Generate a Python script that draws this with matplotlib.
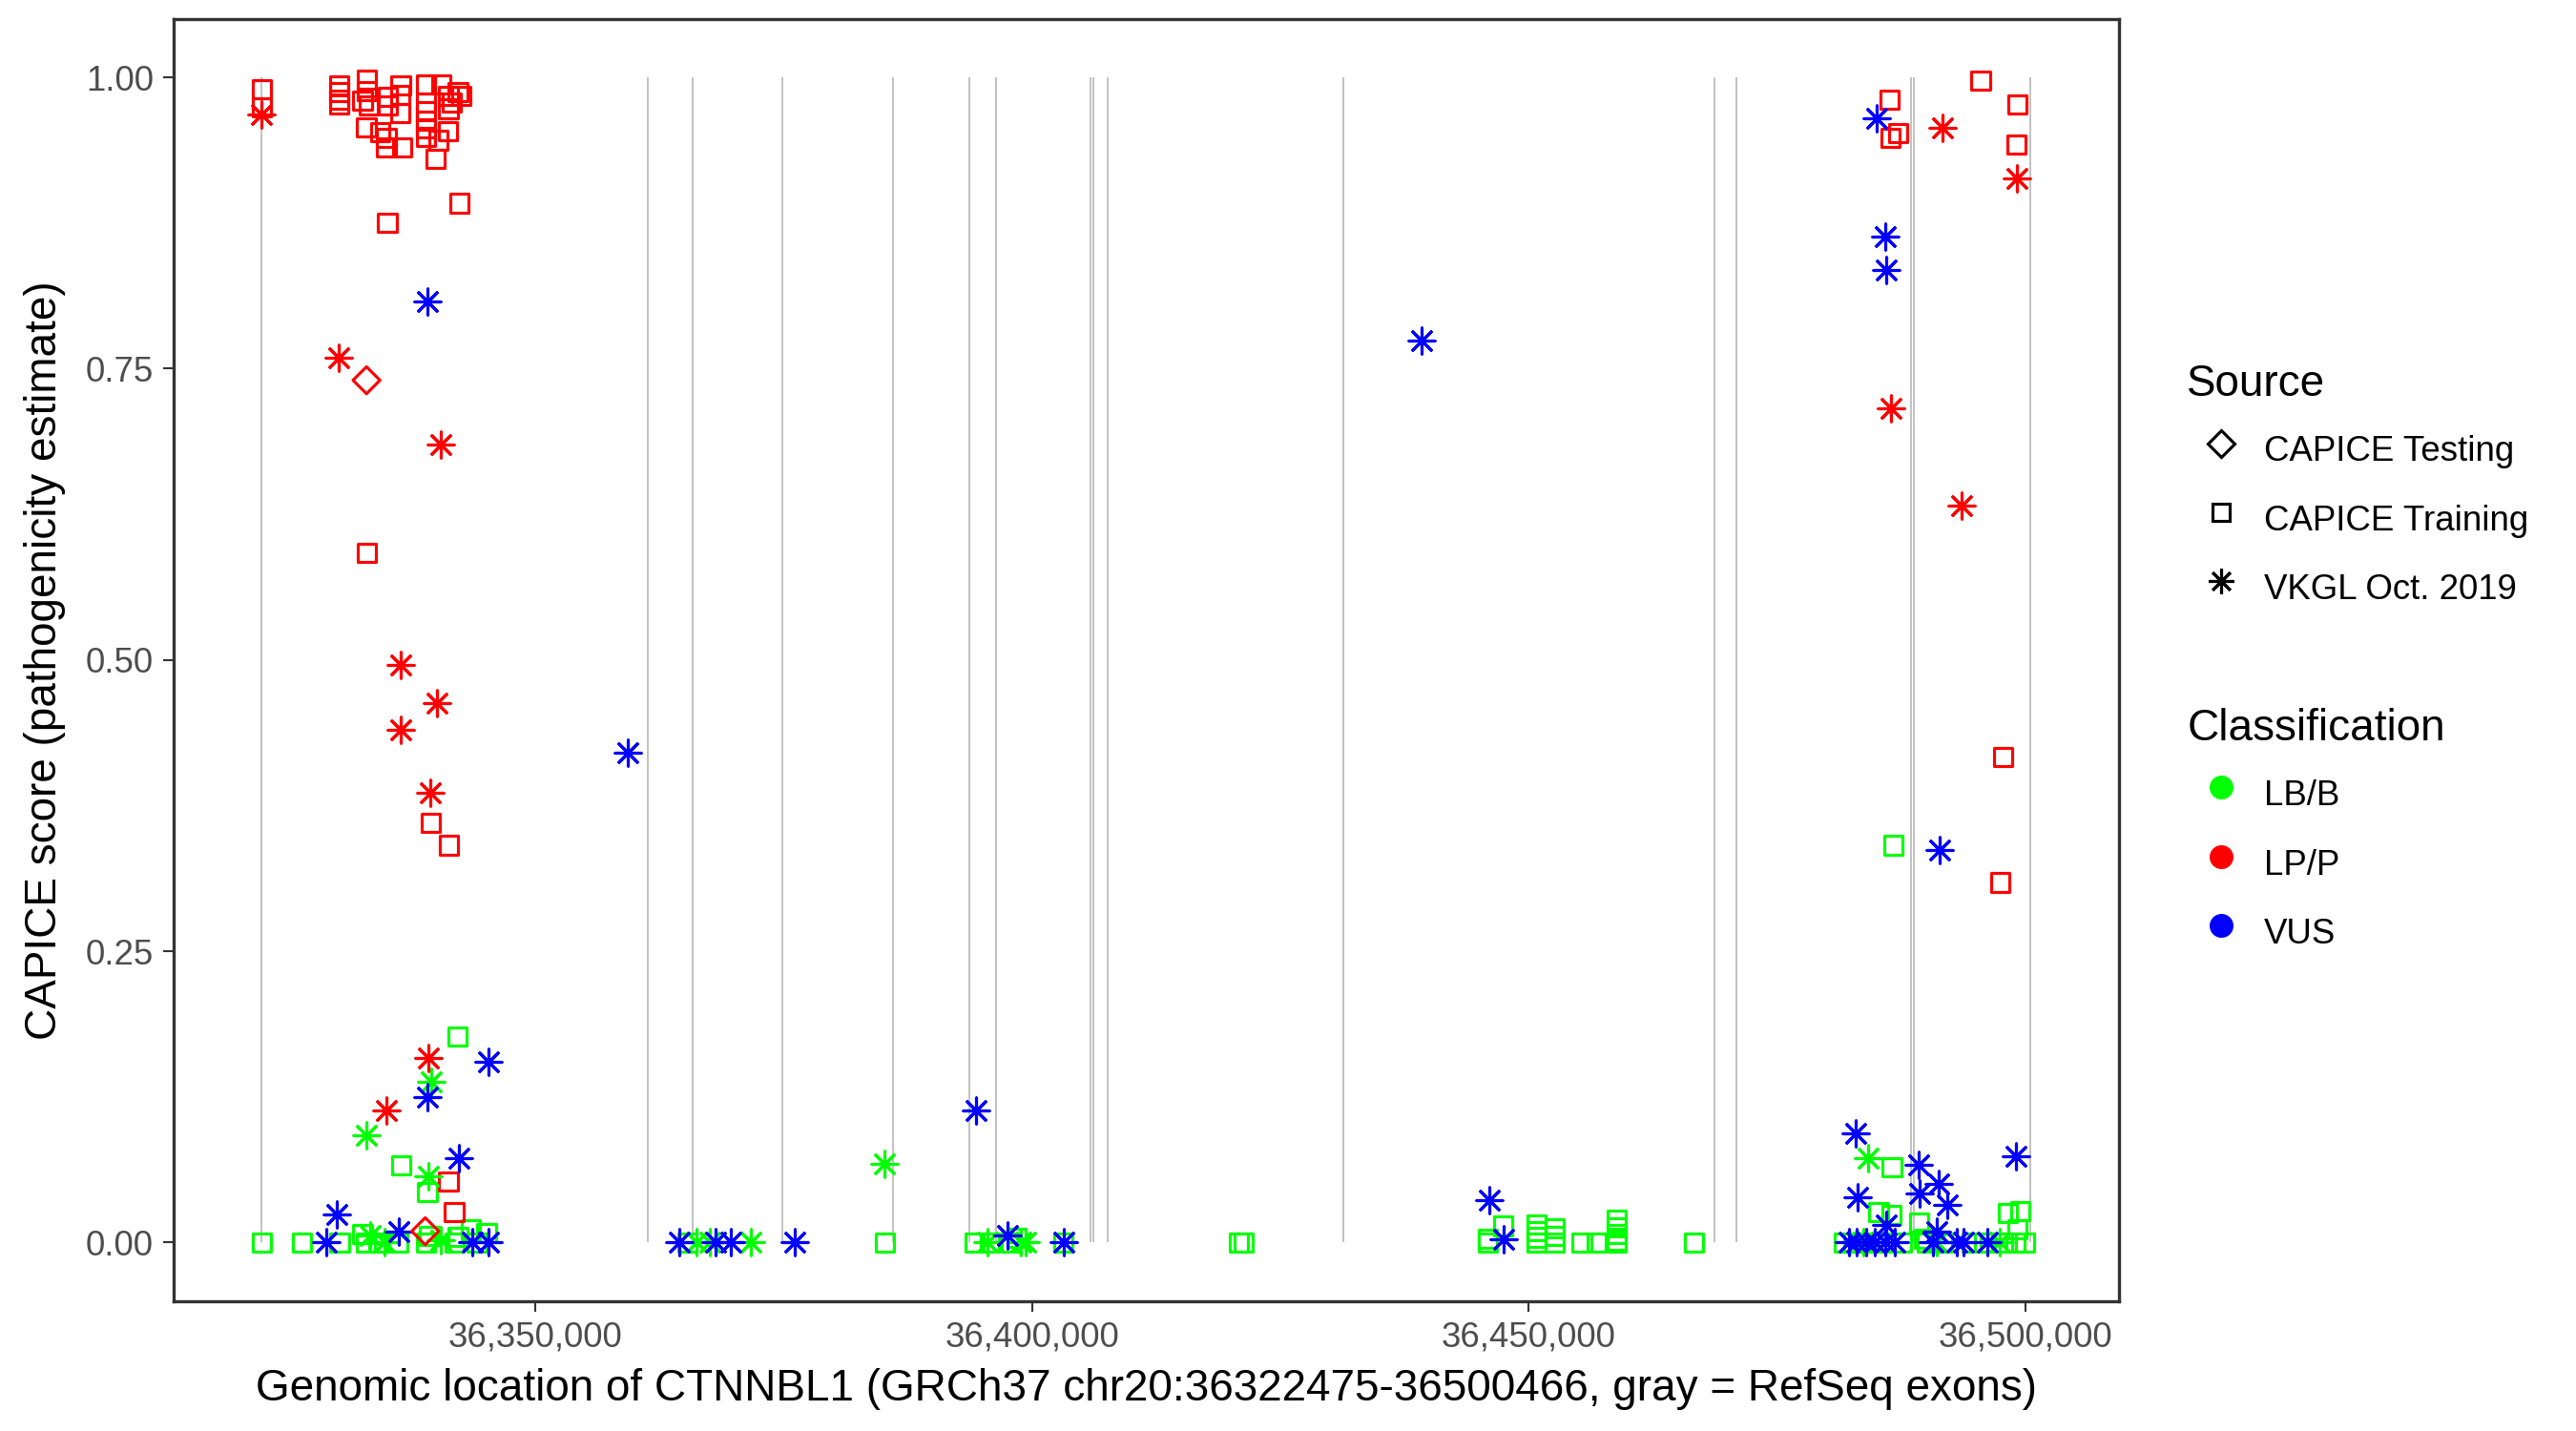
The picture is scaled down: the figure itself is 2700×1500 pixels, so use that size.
import matplotlib
matplotlib.use("Agg")
import matplotlib.pyplot as plt
from matplotlib.lines import Line2D
from matplotlib.ticker import FuncFormatter

plt.rcParams["font.family"] = ["Liberation Sans", "DejaVu Sans"]

GENE_START = 36322475
GENE_END = 36500466

# RefSeq exon positions (drawn as gray segments from 0 to 1)
exon_pos = [36322475, 36361318, 36365830, 36374912, 36385962, 36393642,
            36396397, 36405891, 36406160, 36407648, 36431360, 36468656,
            36470854, 36488480, 36488749, 36500466]

# CAPICE Training, LP/P (red squares)
train_lp_pos = [36322467, 36322467, 36330282, 36330282, 36330282, 36330282,
                36333066, 36333066, 36332614, 36333258, 36333000, 36334372,
                36335014, 36335014, 36336618, 36335178, 36335178, 36336454,
                36336389, 36336389, 36339018, 36339018, 36339018, 36339018,
                36339018, 36339018, 36340554, 36340227, 36339978, 36341254,
                36342214, 36342531, 36341574, 36341254, 36341187, 36342378,
                36335110, 36333013, 36339464, 36341284, 36341254, 36341830,
                36486294, 36487142, 36486403, 36495466, 36499142, 36499075,
                36497752, 36497421]
train_lp_score = [0.990, 0.974, 0.993, 0.987, 0.981, 0.977,
                  0.998, 0.988, 0.980, 0.976, 0.957, 0.953,
                  0.948, 0.940, 0.940, 0.983, 0.976, 0.993,
                  0.985, 0.969, 0.994, 0.978, 0.971, 0.963,
                  0.956, 0.949, 0.994, 0.946, 0.930, 0.984,
                  0.987, 0.984, 0.978, 0.973, 0.954, 0.892,
                  0.875, 0.592, 0.360, 0.341, 0.052, 0.026,
                  0.981, 0.952, 0.948, 0.997, 0.977, 0.942,
                  0.417, 0.309]

# CAPICE Training, LB/B (green squares)
train_lb_pos = [36322467, 36326538, 36330310, 36332614, 36332931, 36334218,
                36336195, 36336518, 36339018, 36339334, 36339142, 36342150,
                36341898, 36342214, 36343491, 36345094, 36344134,
                36365331, 36385222, 36394246, 36395715, 36397894, 36398470,
                36403155, 36420800, 36421300, 36445894, 36445894, 36447402,
                36450762, 36450762, 36450762, 36450762, 36452614, 36452614,
                36452614, 36455334, 36456840, 36458850, 36458850, 36458850,
                36458850, 36458850, 36466594,
                36486531, 36485187, 36486474, 36489254, 36489738, 36498214,
                36499434, 36499178, 36486670, 36481731, 36482691, 36484294,
                36485571, 36487491, 36490054, 36491658, 36494538, 36495814,
                36497734, 36499011, 36499971]
train_lb_score = [0, 0, 0, 0.0075, 0, 0,
                  0, 0.066, 0, 0.006, 0.043, 0.177,
                  0, 0.005, 0.011, 0.008, 0,
                  0, 0, 0, 0, 0, 0.004,
                  0, 0, 0, 0, 0.003, 0.0143,
                  0.0157, 0.010, 0.0045, 0, 0.0125, 0.0055,
                  0, 0, 0, 0.0198, 0.013, 0.0075,
                  0.002, 0, 0,
                  0.0648, 0.026, 0.024, 0.017, 0.003, 0.025,
                  0.027, 0.0116, 0.341, 0, 0, 0,
                  0, 0, 0, 0, 0, 0,
                  0, 0, 0]

# VKGL Oct. 2019, LP/P (red asterisks)
vkgl_lp_pos = [36322467, 36330201, 36340457, 36336486, 36340126, 36336486,
               36339464, 36339210, 36335014, 36491652, 36499142, 36486403,
               36493546]
vkgl_lp_score = [0.968, 0.759, 0.685, 0.496, 0.463, 0.440,
                 0.386, 0.158, 0.113, 0.957, 0.913, 0.716,
                 0.632]

# VKGL Oct. 2019, VUS (blue asterisks)
vkgl_vus_pos = [36339171, 36330051, 36339142, 36345315, 36342310, 36328938,
                36336291, 36343654, 36345315, 36359312, 36364525, 36368096,
                36369642, 36376083, 36394314, 36397558, 36403155, 36439195,
                36446019, 36447498, 36485017, 36485898, 36485994, 36491302,
                36482854, 36483113, 36485994, 36489258, 36489354, 36491235,
                36492138, 36499011, 36491014, 36482211, 36483018, 36483978,
                36484774, 36485898, 36486858, 36490698, 36493098, 36493731,
                36496131]
vkgl_vus_score = [0.808, 0.024, 0.125, 0.155, 0.072, 0,
                  0.009, 0, 0, 0.420, 0, 0,
                  0, 0, 0.113, 0.006, 0, 0.774,
                  0.036, 0.003, 0.965, 0.863, 0.835, 0.337,
                  0.094, 0.039, 0.015, 0.067, 0.042, 0.050,
                  0.032, 0.074, 0.009, 0, 0, 0,
                  0, 0, 0, 0, 0, 0,
                  0]

# VKGL Oct. 2019, LB/B (green asterisks)
vkgl_lb_pos = [36333000, 36339526, 36339210, 36333411, 36334794, 36340458,
               36366253, 36367539, 36371706, 36385146, 36395533, 36398845,
               36399392, 36484131, 36483651, 36491014, 36497414]
vkgl_lb_score = [0.092, 0.138, 0.057, 0.006, 0, 0.002,
                 0, 0, 0, 0.0675, 0, 0,
                 0, 0.0725, 0, 0, 0]

# CAPICE Testing, LP/P (red diamonds)
test_lp_pos = [36333013, 36338922]
test_lp_score = [0.740, 0.0097]

GREEN, RED, BLUE = "#00FF00", "#FF0000", "#0000FF"

fig = plt.figure(figsize=(9, 5), dpi=300)
ax = fig.add_axes([0.0673, 0.0910, 0.7552, 0.8957])

ax.vlines(exon_pos, 0, 1, colors="#BEBEBE", linewidth=0.45, zorder=1)

sq = dict(marker="s", s=4.6 ** 2, facecolors="none", linewidths=0.75, zorder=3)
ast = dict(marker=(8, 2, 0), s=6.5 ** 2, linewidths=0.75, zorder=3)
dia = dict(marker="D", s=4.8 ** 2, facecolors="none", linewidths=0.75, zorder=3)

ax.scatter(train_lb_pos, train_lb_score, edgecolors=GREEN, **sq)
ax.scatter(train_lp_pos, train_lp_score, edgecolors=RED, **sq)
ax.scatter(vkgl_lb_pos, vkgl_lb_score, color=GREEN, **ast)
ax.scatter(vkgl_lp_pos, vkgl_lp_score, color=RED, **ast)
ax.scatter(vkgl_vus_pos, vkgl_vus_score, color=BLUE, **ast)
ax.scatter(test_lp_pos, test_lp_score, edgecolors=RED, **dia)

pad = (GENE_END - GENE_START) * 0.05
ax.set_xlim(GENE_START - pad, GENE_END + pad)
ax.set_ylim(-0.05, 1.05)
ax.set_xticks([36350000, 36400000, 36450000, 36500000])
ax.set_yticks([0, 0.25, 0.5, 0.75, 1.0])
ax.xaxis.set_major_formatter(FuncFormatter(lambda v, p: f"{v:,.0f}"))
ax.yaxis.set_major_formatter(FuncFormatter(lambda v, p: f"{v:.2f}"))
ax.tick_params(length=2.75, width=0.5, color="#333333", labelcolor="#4D4D4D",
               labelsize=8.8, pad=2.2)
for sp in ax.spines.values():
    sp.set_color("#333333")
    sp.set_linewidth(0.8)

ax.set_xlabel(f"Genomic location of CTNNBL1 (GRCh37 chr20:{GENE_START}-{GENE_END}, gray = RefSeq exons)",
              fontsize=11, labelpad=3.5)
ax.set_ylabel("CAPICE score (pathogenicity estimate)", fontsize=11, labelpad=5)

common = dict(loc="upper left", bbox_transform=fig.transFigure, frameon=False,
              fontsize=8.8, title_fontsize=11, handlelength=1.96, handleheight=1.78,
              labelspacing=0.57, handletextpad=0.25, borderpad=0, borderaxespad=0,
              alignment="left")

src_handles = [
    Line2D([], [], ls="none", marker="D", ms=4.8, mfc="none", mec="black", mew=0.75),
    Line2D([], [], ls="none", marker="s", ms=4.3, mfc="none", mec="black", mew=0.75),
    Line2D([], [], ls="none", marker=(8, 2, 0), ms=6.3, color="black", mew=0.75),
]
leg1 = ax.legend(src_handles, ["CAPICE Testing", "CAPICE Training", "VKGL Oct. 2019"],
                 title="Source", bbox_to_anchor=(0.849, 0.746), **common)
ax.add_artist(leg1)

cls_handles = [Line2D([], [], ls="none", marker="o", ms=5.0, color=c) for c in (GREEN, RED, BLUE)]
ax.legend(cls_handles, ["LB/B", "LP/P", "VUS"], title="Classification",
          bbox_to_anchor=(0.849, 0.5055), **common)

fig.savefig("out.png", dpi=300)
